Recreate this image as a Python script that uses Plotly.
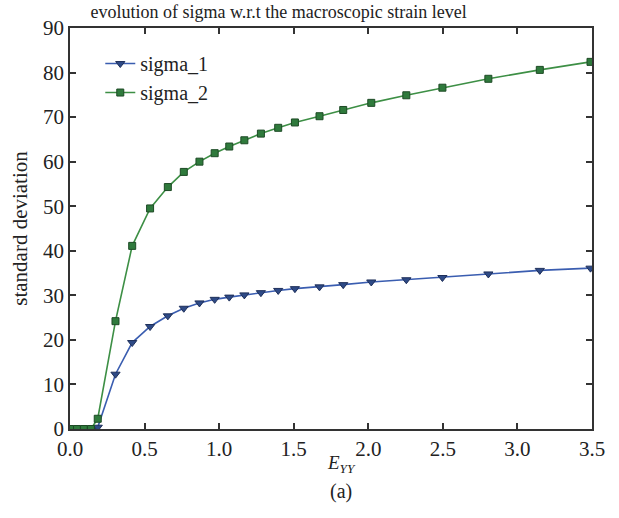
import plotly.graph_objects as go

strain = [0.0, 0.047, 0.093, 0.14, 0.186, 0.305, 0.417, 0.537, 0.656, 0.763,
          0.868, 0.97, 1.068, 1.169, 1.28, 1.396, 1.508, 1.673, 1.832, 2.02,
          2.255, 2.497, 2.805, 3.15, 3.49]
sigma_1 = [0.0, 0.0, 0.0, 0.0, 0.4, 12.3, 19.4, 23.0, 25.4, 27.1,
           28.3, 29.1, 29.6, 30.1, 30.6, 31.1, 31.5, 31.9, 32.4, 33.0,
           33.5, 34.0, 34.8, 35.6, 36.1]
sigma_2 = [0.0, 0.0, 0.0, 0.0, 2.3, 24.2, 41.1, 49.5, 54.3, 57.7,
           60.0, 61.9, 63.4, 64.8, 66.3, 67.6, 68.8, 70.2, 71.6, 73.2,
           74.9, 76.6, 78.6, 80.6, 82.4]

x_ticks = [0.0, 0.5, 1.0, 1.5, 2.0, 2.5, 3.0, 3.5]
y_ticks = [0, 10, 20, 30, 40, 50, 60, 70, 80, 90]

font_serif = "Liberation Serif"
text_col = "#222222"

fig = go.Figure()
fig.add_trace(go.Scatter(
    x=strain, y=sigma_1, mode="lines+markers", name="sigma_1",
    line=dict(color="#3a5db0", width=1.6),
    marker=dict(symbol="triangle-down", size=8, color="#2e4a86",
                line=dict(color="#1e2f5a", width=1)),
))
fig.add_trace(go.Scatter(
    x=strain, y=sigma_2, mode="lines+markers", name="sigma_2",
    line=dict(color="#3d8f45", width=1.6),
    marker=dict(symbol="square", size=7, color="#2f7a3c",
                line=dict(color="#1d4a25", width=1)),
))

axis_common = dict(
    showline=True, linecolor="#333333", linewidth=1.5, mirror="ticks",
    ticks="inside", ticklen=6, tickwidth=1.5, tickcolor="#333333",
    showgrid=False, zeroline=False,
    tickfont=dict(family=font_serif, size=21, color=text_col),
)

fig.update_layout(
    width=619, height=518,
    margin=dict(l=70, r=27, t=28, b=89),
    paper_bgcolor="white", plot_bgcolor="white",
    title=dict(text="evolution of sigma w.r.t the macroscopic strain level",
               x=0.45, xanchor="center", y=0.977, yanchor="middle",
               font=dict(family=font_serif, size=18, color=text_col)),
    xaxis=dict(range=[0, 3.5], tickvals=x_ticks,
               ticktext=[f"{v:.1f}" for v in x_ticks], **axis_common),
    yaxis=dict(range=[0, 90], tickvals=y_ticks,
               title=dict(text="standard deviation", standoff=10,
                          font=dict(family=font_serif, size=21, color=text_col)),
               **axis_common),
    legend=dict(x=0.058, y=0.96, xanchor="left", yanchor="top",
                bgcolor="rgba(0,0,0,0)",
                font=dict(family=font_serif, size=20, color=text_col),
                tracegroupgap=0, itemwidth=30),
    showlegend=True,
)

fig.add_annotation(text="<i>E</i><sub><i>YY</i></sub>", xref="paper", yref="paper",
                   x=0.52, y=-0.087, xanchor="center", yanchor="middle", showarrow=False,
                   font=dict(family=font_serif, size=19, color=text_col))
fig.add_annotation(text="(a)", xref="paper", yref="paper",
                   x=0.52, y=-0.157, xanchor="center", yanchor="middle", showarrow=False,
                   font=dict(family=font_serif, size=20, color=text_col))

fig.write_html("out.html", config={"displayModeBar": False},
               post_script="document.body.style.margin='0';")
